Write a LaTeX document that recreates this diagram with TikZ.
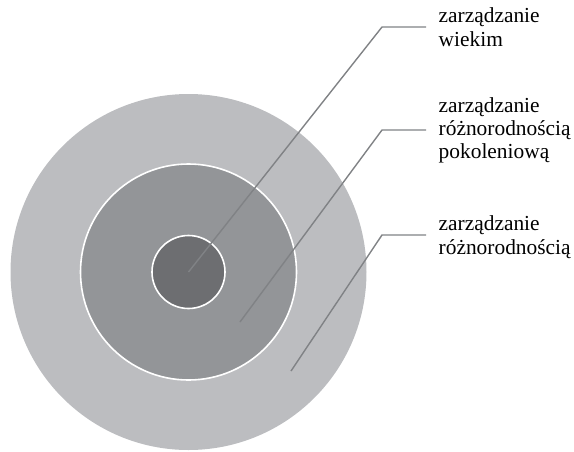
\documentclass[tikz,border=0pt]{standalone}
\usepackage{fontspec}
\setmainfont{Liberation Serif}
\definecolor{ringouter}{HTML}{BCBDC0}
\definecolor{ringmid}{HTML}{939598}
\definecolor{ringinner}{HTML}{6D6E71}
\definecolor{leader}{HTML}{808285}
\begin{document}
\begin{tikzpicture}[x=1pt,y=-1pt,
  ring/.style={circle,draw=white,line width=1.6pt,inner sep=0pt},
  leaderline/.style={draw=leader,line width=1.4pt},
  lbl/.style={anchor=base west,align=left,inner sep=0pt,font=\fontsize{21.4}{23.1}\selectfont}]
\useasboundingbox (0,0) rectangle (574,451);
\node[ring,draw=none,fill=ringouter,minimum size=356pt] (outer) at (188.5,272) {};
\node[ring,fill=ringmid,minimum size=216pt] (mid) at (188.5,272) {};
\node[ring,fill=ringinner,minimum size=73pt] (inner) at (188.5,272) {};
\coordinate (p1) at (188.5,272);
\coordinate (p2) at (240,322);
\coordinate (p3) at (291,371);
\coordinate (b1) at (382,27);
\coordinate (b2) at (382,130);
\coordinate (b3) at (382,235);
\coordinate (e1) at (426,27);
\coordinate (e2) at (426,130);
\coordinate (e3) at (426,235);
\draw[leaderline] (p1) -- (b1) -- (e1);
\draw[leaderline] (p2) -- (b2) -- (e2);
\draw[leaderline] (p3) -- (b3) -- (e3);
\node[lbl] (t1) at (438.5,46) {zarządzanie\\wiekim};
\node[lbl] (t2) at (438.5,158.8) {zarządzanie\\różnorodnością\\pokoleniową};
\node[lbl] (t3) at (438.5,254) {zarządzanie\\różnorodnością};
\end{tikzpicture}
\end{document}
